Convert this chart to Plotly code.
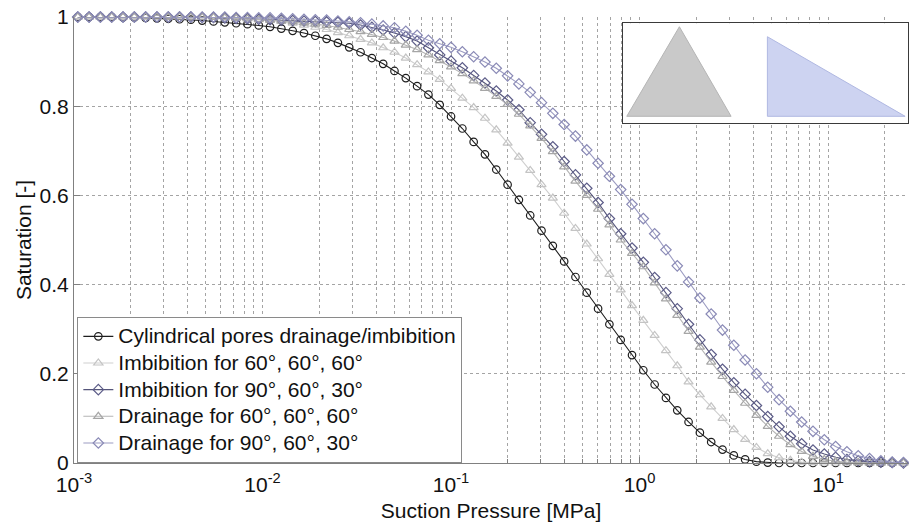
import plotly.graph_objects as go

# Suction pressure sampling points [MPa]
suction_mpa = [
    0.0010471, 0.0012023, 0.0013804, 0.0015849, 0.0018197, 0.0020893, 0.0023988, 0.0027542,
    0.0031623, 0.0036308, 0.0041687, 0.0047863, 0.0054954, 0.0063096, 0.0072444, 0.0083176,
    0.0095499, 0.010965, 0.012589, 0.014454, 0.016596, 0.019055, 0.021878, 0.025119,
    0.028840, 0.033113, 0.038019, 0.043652, 0.050119, 0.057544, 0.066069, 0.075858,
    0.087096, 0.10000, 0.11482, 0.13183, 0.15136, 0.17378, 0.19953, 0.22909,
    0.26303, 0.30200, 0.34674, 0.39811, 0.45709, 0.52481, 0.60256, 0.69183,
    0.79433, 0.91201, 1.0471, 1.2023, 1.3804, 1.5849, 1.8197, 2.0893,
    2.3988, 2.7542, 3.1623, 3.6308, 4.1687, 4.7863, 5.4954, 6.3096,
    7.2444, 8.3176, 9.5499, 10.965, 12.589, 14.454, 16.596, 19.055,
    21.878, 25.119,
]

# Saturation curves [-]
sat_cylindrical = [
    1.000, 1.000, 1.000, 1.000, 0.999, 0.999, 0.998, 0.997,
    0.996, 0.995, 0.994, 0.992, 0.990, 0.988, 0.986, 0.984,
    0.981, 0.978, 0.974, 0.969, 0.964, 0.958, 0.951, 0.942,
    0.932, 0.921, 0.908, 0.895, 0.879, 0.863, 0.845, 0.826,
    0.803, 0.777, 0.750, 0.720, 0.692, 0.658, 0.624, 0.590,
    0.555, 0.521, 0.487, 0.452, 0.417, 0.382, 0.346, 0.311,
    0.276, 0.242, 0.208, 0.176, 0.146, 0.118, 0.092, 0.068,
    0.047, 0.030, 0.017, 0.008, 0.003, 0.001, 0.000, 0.000,
    0.000, 0.000, 0.000, 0.000, 0.000, 0.000, 0.000, 0.000,
    0.000, 0.000,
]
sat_imb_60_60_60 = [
    1.000, 1.000, 1.000, 1.000, 1.000, 1.000, 1.000, 1.000,
    1.000, 1.000, 1.000, 1.000, 1.000, 0.999, 0.998, 0.997,
    0.995, 0.993, 0.990, 0.986, 0.982, 0.977, 0.972, 0.965,
    0.958, 0.950, 0.942, 0.931, 0.921, 0.908, 0.893, 0.877,
    0.860, 0.840, 0.818, 0.797, 0.773, 0.747, 0.717, 0.686,
    0.656, 0.624, 0.594, 0.560, 0.526, 0.491, 0.458, 0.423,
    0.388, 0.353, 0.320, 0.286, 0.252, 0.218, 0.182, 0.153,
    0.126, 0.100, 0.075, 0.053, 0.035, 0.021, 0.012, 0.006,
    0.002, 0.001, 0.000, 0.000, 0.000, 0.000, 0.000, 0.000,
    0.000, 0.000,
]
sat_imb_90_60_30 = [
    1.000, 1.000, 1.000, 1.000, 1.000, 1.000, 1.000, 1.000,
    1.000, 1.000, 1.000, 0.999, 0.999, 0.998, 0.997, 0.996,
    0.995, 0.994, 0.993, 0.992, 0.991, 0.990, 0.989, 0.988,
    0.986, 0.982, 0.977, 0.971, 0.964, 0.956, 0.946, 0.931,
    0.915, 0.901, 0.886, 0.869, 0.852, 0.834, 0.814, 0.792,
    0.763, 0.737, 0.709, 0.676, 0.646, 0.616, 0.584, 0.548,
    0.514, 0.482, 0.450, 0.416, 0.382, 0.346, 0.311, 0.276,
    0.243, 0.210, 0.180, 0.154, 0.129, 0.104, 0.081, 0.060,
    0.043, 0.029, 0.020, 0.013, 0.008, 0.005, 0.003, 0.002,
    0.001, 0.000,
]
sat_dra_60_60_60 = [
    1.000, 1.000, 1.000, 1.000, 1.000, 1.000, 1.000, 1.000,
    1.000, 1.000, 1.000, 0.999, 0.999, 0.998, 0.997, 0.996,
    0.994, 0.993, 0.991, 0.989, 0.987, 0.984, 0.981, 0.977,
    0.972, 0.967, 0.961, 0.954, 0.946, 0.937, 0.927, 0.915,
    0.902, 0.888, 0.873, 0.857, 0.840, 0.822, 0.804, 0.782,
    0.756, 0.728, 0.698, 0.664, 0.632, 0.600, 0.569, 0.534,
    0.500, 0.470, 0.440, 0.404, 0.368, 0.331, 0.295, 0.260,
    0.226, 0.194, 0.163, 0.134, 0.107, 0.082, 0.060, 0.041,
    0.026, 0.015, 0.008, 0.004, 0.002, 0.001, 0.000, 0.000,
    0.000, 0.000,
]
sat_dra_90_60_30 = [
    1.000, 1.000, 1.000, 1.000, 1.000, 1.000, 1.000, 1.000,
    1.000, 1.000, 1.000, 1.000, 1.000, 1.000, 0.999, 0.999,
    0.998, 0.998, 0.997, 0.996, 0.995, 0.994, 0.993, 0.991,
    0.989, 0.987, 0.984, 0.980, 0.976, 0.968, 0.959, 0.948,
    0.940, 0.932, 0.922, 0.911, 0.899, 0.885, 0.868, 0.850,
    0.831, 0.808, 0.784, 0.759, 0.733, 0.702, 0.672, 0.643,
    0.613, 0.580, 0.548, 0.514, 0.478, 0.442, 0.406, 0.370,
    0.334, 0.298, 0.264, 0.231, 0.200, 0.170, 0.142, 0.116,
    0.092, 0.071, 0.052, 0.037, 0.025, 0.016, 0.010, 0.005,
    0.002, 0.001,
]

series_names = [
    "Cylindrical pores drainage/imbibition",
    "Imbibition for 60°, 60°, 60°",
    "Imbibition for 90°, 60°, 30°",
    "Drainage for 60°, 60°, 60°",
    "Drainage for 90°, 60°, 30°",
]

# Pore cross-section outlines for the inset (inset pixel units)
equilateral_x = [4.0, 108.3, 56.6, 4.0]
equilateral_y = [6.4, 6.4, 96.0, 6.4]
right_tri_x = [144.6, 282.3, 144.6, 144.6]
right_tri_y = [6.4, 6.4, 86.0, 6.4]

decade_ticks = [1e-3, 1e-2, 1e-1, 1e0, 1e1]
decade_labels = ["10<sup>-3</sup>", "10<sup>-2</sup>", "10<sup>-1</sup>",
                 "10<sup>0</sup>", "10<sup>1</sup>"]
minor_ticks = [m * d for d in [1e-3, 1e-2, 1e-1, 1e0, 1e1] for m in range(2, 10)
               if m * d < 27]

FONT = "Liberation Sans, Arial, sans-serif"

styles = [
    dict(line="#1e1e1e", marker="#1e1e1e", symbol="circle-open", size=7.5),
    dict(line="#cfcfcf", marker="#c4c4c4", symbol="triangle-up-open", size=8),
    dict(line="#55557a", marker="#5c5c88", symbol="diamond-open", size=8),
    dict(line="#b4b4b4", marker="#a6a6a6", symbol="triangle-up-open", size=8),
    dict(line="#9c9cc2", marker="#8a8ab6", symbol="diamond-open", size=8),
]
curves = [sat_cylindrical, sat_imb_60_60_60, sat_imb_90_60_30,
          sat_dra_60_60_60, sat_dra_90_60_30]

fig = go.Figure()
for name, ys, st in zip(series_names, curves, styles):
    fig.add_trace(go.Scatter(
        x=suction_mpa, y=ys, mode="lines+markers",
        name='<span style="font-size:21px">' + name + "</span>",
        line=dict(color=st["line"], width=1.1),
        marker=dict(symbol=st["symbol"], size=st["size"], color=st["marker"],
                    line=dict(width=1.2, color=st["marker"])),
        cliponaxis=False,
    ))

# Inset with the two pore cross-sections
fig.add_trace(go.Scatter(
    x=equilateral_x, y=equilateral_y, xaxis="x2", yaxis="y2", mode="lines",
    fill="toself", fillcolor="#c9c9c9", line=dict(color="#b5b5b5", width=1),
    showlegend=False, hoverinfo="skip",
))
fig.add_trace(go.Scatter(
    x=right_tri_x, y=right_tri_y, xaxis="x2", yaxis="y2", mode="lines",
    fill="toself", fillcolor="#cdd3f1", line=dict(color="#b0b8e2", width=1),
    showlegend=False, hoverinfo="skip",
))

grid = dict(showgrid=True, gridcolor="#a4a4a4", griddash="dot", gridwidth=1)

fig.update_layout(
    width=909, height=524,
    margin=dict(l=74, r=1, t=17, b=61),
    paper_bgcolor="white", plot_bgcolor="white",
    font=dict(family=FONT, size=21, color="#111111"),
    showlegend=True,
    legend=dict(
        x=0.004, y=0.0, xanchor="left", yanchor="bottom",
        bgcolor="white", bordercolor="#8a8a8a", borderwidth=1,
        font=dict(family=FONT, size=18.2, color="#111111"),
        itemwidth=30, tracegroupgap=0,
    ),
    xaxis=dict(
        type="log", range=[-3, 1.424],
        tickvals=decade_ticks, ticktext=decade_labels,
        ticks="inside", ticklen=6, tickcolor="#808080",
        ticklabelstandoff=3,
        showline=True, linecolor="#808080", linewidth=1, mirror=False,
        zeroline=False,
        minor=dict(tickvals=minor_ticks, ticks="inside", ticklen=4,
                   tickcolor="#808080", **grid),
        title=dict(text="Suction Pressure [MPa]", standoff=8,
                   font=dict(family=FONT, size=21)),
        **grid,
    ),
    yaxis=dict(
        range=[0, 1], tickvals=[0, 0.2, 0.4, 0.6, 0.8, 1],
        ticktext=["0", "0.2", "0.4", "0.6", "0.8", "1"],
        ticks="inside", ticklen=6, tickcolor="#808080",
        showline=True, linecolor="#808080", linewidth=1, mirror=False,
        zeroline=False,
        title=dict(text="Saturation [-]", standoff=2,
                   font=dict(family=FONT, size=21)),
        **grid,
    ),
    xaxis2=dict(
        domain=[0.658, 1.0], anchor="y2", range=[0, 285.2],
        showgrid=False, zeroline=False, showticklabels=False, ticks="",
        showline=True, mirror=True, linecolor="#3a3a3a", linewidth=1,
    ),
    yaxis2=dict(
        domain=[0.763, 0.986], anchor="x2", range=[0, 99.5],
        showgrid=False, zeroline=False, showticklabels=False, ticks="",
        showline=True, mirror=True, linecolor="#3a3a3a", linewidth=1,
    ),
)

fig.write_html("out.html")
